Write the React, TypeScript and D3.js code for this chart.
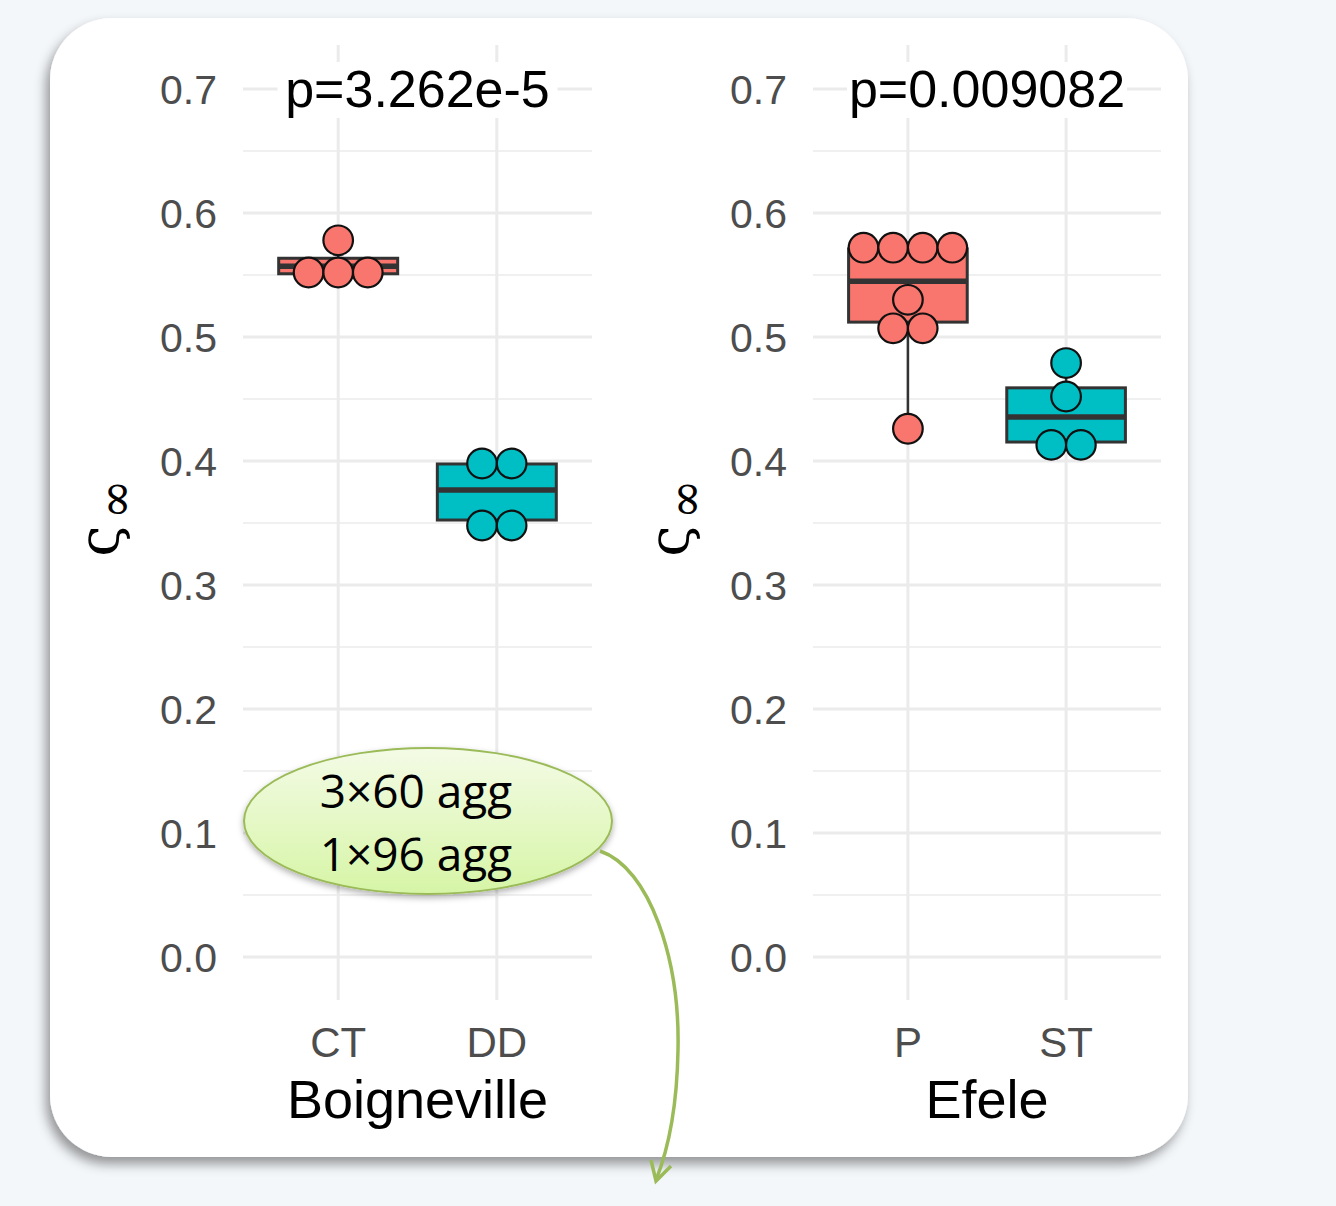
import * as d3 from 'd3';

// Boigneville panel
const leftCats = ['CT', 'DD'];
const leftDots = [
  [0.578, 0.552, 0.552, 0.552],
  [0.398, 0.398, 0.348, 0.348],
];
// [lower whisker, q1, median, q3, upper whisker]
const leftBoxes = [
  [0.551, 0.551, 0.557, 0.5635, 0.578],
  [0.3524, 0.3524, 0.3766, 0.3976, 0.3976],
];

// Efele panel
const rightCats = ['P', 'ST'];
const rightDots = [
  [0.572, 0.572, 0.572, 0.572, 0.53, 0.507, 0.507, 0.426],
  [0.479, 0.452, 0.413, 0.413],
];
const rightBoxes = [
  [0.4258, 0.512, 0.545, 0.571, 0.5718],
  [0.4153, 0.4153, 0.4355, 0.459, 0.479],
];

const majorTicks = [0, 0.1, 0.2, 0.3, 0.4, 0.5, 0.6, 0.7];
const minorTicks = [0.05, 0.15, 0.25, 0.35, 0.45, 0.55, 0.65];
const fills = ['#F8766D', '#00BFC4'];
const titles = ['p=3.262e-5', 'p=0.009082'];
const xTitles = ['Boigneville', 'Efele'];
const noteLines = ['3×60 agg', '1×96 agg'];

const FONT = '"Liberation Sans", Arial, sans-serif';
const R = 14.8;

function Panel({ x0, x1, cats, dots, boxes, title, xTitle, labelX, yTitleX }: any) {
  const y = d3.scaleLinear().domain([0, 0.7]).range([957, 89]);
  const x = d3.scalePoint<string>().domain(cats).range([x0, x1]).padding(0.6);
  const bw = x.step() * 0.75;
  return (
    <g>
      {minorTicks.map((t, i) => (
        <line key={'mi' + i} x1={x0} x2={x1} y1={y(t)} y2={y(t)} stroke="#ebebeb" strokeWidth={1.6} />
      ))}
      {majorTicks.map((t, i) => (
        <line key={'ma' + i} x1={x0} x2={x1} y1={y(t)} y2={y(t)} stroke="#ebebeb" strokeWidth={3} />
      ))}
      {cats.map((c: string) => (
        <line key={'v' + c} x1={x(c)} x2={x(c)} y1={45} y2={1000} stroke="#ebebeb" strokeWidth={3} />
      ))}
      {majorTicks.map((t, i) => (
        <text key={'yl' + i} x={labelX} y={y(t)} dy="0.36em" textAnchor="end" fontSize={41}
          fontFamily={FONT} fill="#4d4d4d">{t.toFixed(1)}</text>
      ))}
      {cats.map((c: string, i: number) => {
        const [lo, q1, med, q3, hi] = boxes[i];
        const cx = x(c)!;
        return (
          <g key={'b' + c}>
            <line x1={cx} x2={cx} y1={y(hi)} y2={y(q3)} stroke="#333" strokeWidth={2.5} />
            <line x1={cx} x2={cx} y1={y(q1)} y2={y(lo)} stroke="#333" strokeWidth={2.5} />
            <rect x={cx - bw / 2} y={y(q3)} width={bw} height={y(q1) - y(q3)} fill={fills[i]}
              stroke="#333" strokeWidth={3} />
            <line x1={cx - bw / 2} x2={cx + bw / 2} y1={y(med)} y2={y(med)} stroke="#333" strokeWidth={5.5} />
          </g>
        );
      })}
      {cats.map((c: string, i: number) => {
        const groups = d3.groups(dots[i] as number[], (v) => v);
        const cx = x(c)!;
        return groups.flatMap(([v, arr]) =>
          arr.map((_, j) => (
            <circle key={c + v + '-' + j} cx={cx + (j - (arr.length - 1) / 2) * 2 * R} cy={y(v)} r={R}
              fill={fills[i]} stroke="#111" strokeWidth={2.2} />
          ))
        );
      })}
      {cats.map((c: string) => (
        <text key={'xl' + c} x={x(c)} y={1057} textAnchor="middle" fontSize={42} fontFamily={FONT}
          fill="#4d4d4d">{c}</text>
      ))}
      <text x={(x0 + x1) / 2} y={1118} textAnchor="middle" fontSize={54} fontFamily={FONT} fill="#000">{xTitle}</text>
      <rect x={(x0 + x1) / 2 - 140} y={62} width={280} height={56} fill="#fff" />
      <text x={(x0 + x1) / 2} y={107} textAnchor="middle" fontSize={52} fontFamily={FONT} fill="#000">{title}</text>
      <g transform={`translate(${yTitleX},518) rotate(-90)`}>
        <text textAnchor="middle" fontFamily={'"DejaVu Serif", serif'} fill="#000">
          <tspan fontSize={56}>ς</tspan>
          <tspan fontSize={48} dy={14} dx={6}>∞</tspan>
        </text>
      </g>
    </g>
  );
}

export default function App() {
  return (
    <svg width={1336} height={1206} style={{ position: 'absolute', left: 0, top: 0 }}>
      <defs>
        <filter id="cardShadow" x="-10%" y="-10%" width="120%" height="120%">
          <feDropShadow dx={-4} dy={7} stdDeviation={6} floodColor="#000" floodOpacity={0.4} />
        </filter>
        <filter id="ovalShadow" x="-10%" y="-10%" width="120%" height="130%">
          <feDropShadow dx={0} dy={3} stdDeviation={3} floodColor="#000" floodOpacity={0.3} />
        </filter>
        <linearGradient id="ovalFill" x1="0" y1="0" x2="0" y2="1">
          <stop offset="0%" stopColor="#f4fbe6" />
          <stop offset="100%" stopColor="#d6f5a6" />
        </linearGradient>
      </defs>
      <rect width={1336} height={1206} fill="#f4f7fa" />
      <rect x={50} y={18} width={1138} height={1139} rx={62} fill="#fff" filter="url(#cardShadow)" />
      <Panel x0={243} x1={592} cats={leftCats} dots={leftDots} boxes={leftBoxes} title={titles[0]}
        xTitle={xTitles[0]} labelX={217} yTitleX={118} />
      <Panel x0={813} x1={1161} cats={rightCats} dots={rightDots} boxes={rightBoxes} title={titles[1]}
        xTitle={xTitles[1]} labelX={787} yTitleX={688} />
      <ellipse cx={428} cy={821} rx={184} ry={73} fill="url(#ovalFill)" stroke="#9bbb59" strokeWidth={2}
        filter="url(#ovalShadow)" />
      {noteLines.map((t, i) => (
        <text key={t} x={416} y={808 + i * 63} textAnchor="middle" fontSize={46}
          fontFamily={'"Open Sans", sans-serif'} fill="#000">{t}</text>
      ))}
      <path d="M600,851 C650,868 680,960 678,1050 C677,1110 668,1150 656,1180" fill="none" stroke="#9bbb59"
        strokeWidth={3.5} />
      <polyline points="651,1160 656,1181 671,1166" fill="none" stroke="#9bbb59" strokeWidth={3.5} />
    </svg>
  );
}
